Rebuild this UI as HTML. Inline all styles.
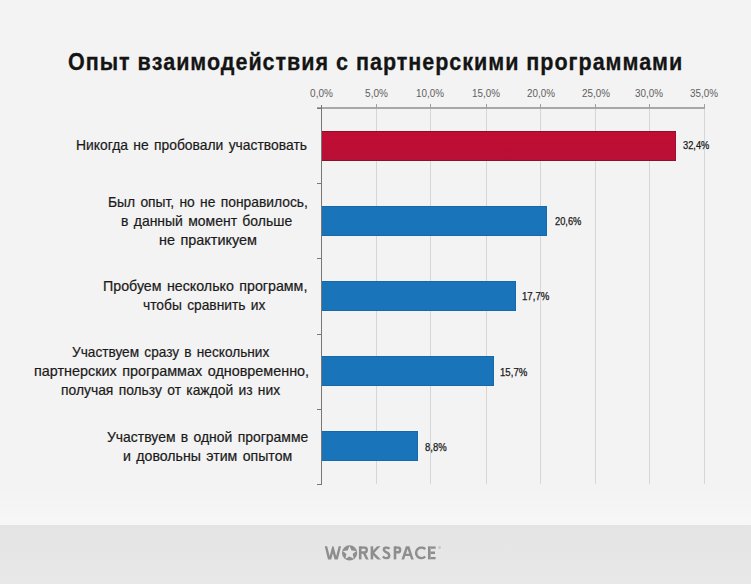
<!DOCTYPE html>
<html><head><meta charset="utf-8">
<style>
html,body{margin:0;padding:0}
body{width:751px;height:584px;position:relative;overflow:hidden;background:#f3f3f3;font-family:"Liberation Sans",sans-serif}
.a{position:absolute}
.t{position:absolute;white-space:nowrap;line-height:1;transform-origin:0 0}
.grid{position:absolute;top:109px;height:375px;width:1px;background:#d6d6d6}
.ttk{position:absolute;top:104px;height:4px;width:1px;background:#a0a0a0}
.ytk{position:absolute;left:317px;width:4px;height:1px;background:#777}
.bar{position:absolute;left:322px;height:30px;box-sizing:border-box}
.red{background:linear-gradient(#c20d33,#b80f36);border-top:1px solid #8e0f2a;border-bottom:1px solid #8e0f2a;border-right:1px solid #a00e30}
.blue{background:#1a74b9;border:1px solid #1668a8;border-left:0}
</style></head><body>
<div class="a" style="left:0;top:488px;width:751px;height:37px;background:linear-gradient(#f3f3f3,#f7f7f7)"></div>
<div class="a" style="left:0;top:525px;width:751px;height:59px;background:linear-gradient(#e4e4e4,#e8e8e8)"></div>
<div class="grid" style="left:376px"></div><div class="grid" style="left:430px"></div><div class="grid" style="left:486px"></div><div class="grid" style="left:540px"></div><div class="grid" style="left:595px"></div><div class="grid" style="left:649px"></div><div class="grid" style="left:704px"></div>
<div class="a" style="left:317px;top:107px;width:388px;height:2px;background:#a8a8a8"></div>
<div class="ttk" style="left:376px"></div><div class="ttk" style="left:430px"></div><div class="ttk" style="left:486px"></div><div class="ttk" style="left:540px"></div><div class="ttk" style="left:595px"></div><div class="ttk" style="left:649px"></div><div class="ttk" style="left:704px"></div>
<div class="a" style="left:321px;top:105px;width:1px;height:380px;background:#777"></div>
<div class="ytk" style="top:108px"></div><div class="ytk" style="top:183px"></div><div class="ytk" style="top:258px"></div><div class="ytk" style="top:334px"></div><div class="ytk" style="top:409px"></div><div class="ytk" style="top:484px"></div><div class="bar red" style="top:131px;width:353.9px"></div><div class="bar blue" style="top:206px;width:225.1px"></div><div class="bar blue" style="top:281px;width:193.6px"></div><div class="bar blue" style="top:356px;width:171.9px"></div><div class="bar blue" style="top:431px;width:95.9px"></div>
<svg class="a" style="left:0;top:0" width="751" height="584" viewBox="0 0 751 584">
<defs><clipPath id="cl"><rect x="320" y="546.3" width="120" height="13.1"/></clipPath></defs>
<g fill="none" stroke="#8e8e8e" stroke-width="2.5" clip-path="url(#cl)" stroke-linejoin="miter" stroke-miterlimit="10">
<polyline points="325.4,544 329.6,561 332.9,548.6 336.2,561 340.4,544" stroke-width="2.4"/>
<path d="M360.2,547.55 H364.4 A2.5,2.48 0 0 1 364.4,552.5 H360.2 M363.8,552.4 L368,561"/>
<path d="M379.9,545 L372.6,553 L380.6,561"/>
<path d="M389.3,548.9 C388.8,547.9 387.7,547.5 386.4,547.5 C384.8,547.5 383.9,548.5 383.9,549.7 C383.9,551.1 385.2,551.7 386.6,552.3 C388.2,553 389.2,553.7 389.2,555.4 C389.2,557.1 387.9,558.2 386.2,558.2 C384.7,558.2 383.6,557.5 382.9,556.4"/>
<path d="M395,547.55 H397.8 A2.35,2.35 0 0 1 397.8,552.25 H395"/>
<polyline points="402.3,561 407.6,545 412.9,561"/>
<path d="M404.6,554.9 H410.6" stroke-width="2.2"/>
<path d="M425.2,549.2 A5.3,5.3 0 1 0 425.2,556.5"/>
<path d="M430.5,547.55 H435.6 M430.5,552.8 H435 M430.5,558.15 H435.6"/>
</g>
<g fill="#8e8e8e">
<rect x="358.9" y="546.3" width="2.6" height="13.1"/>
<rect x="370.6" y="546.3" width="2.6" height="13.1"/>
<rect x="393.7" y="546.3" width="2.6" height="13.1"/>
<rect x="428" y="546.3" width="2.6" height="13.1"/>
<circle cx="349.6" cy="552.9" r="7.6"/>
</g>
<polygon fill="#e6e6e6" points="349.55,546.00 351.49,550.43 356.30,550.91 352.69,554.12 353.72,558.84 349.55,556.40 345.38,558.84 346.41,554.12 342.80,550.91 347.61,550.43"/>
<circle cx="439.6" cy="547.6" r="1.3" fill="#c4c4c4"/>
</svg>
<div class="t" id="t0" style="left:67.97px;top:50.22px;font-size:24px;font-weight:bold;color:#141414;transform:scale(0.8966,1.000);-webkit-text-stroke:0.3px #141414;letter-spacing:1.1px">Опыт взаимодействия с партнерскими программами</div>
<div class="t" id="t1" style="left:310.10px;top:88.81px;font-size:10px;font-weight:normal;color:#5e5e5e;transform:scale(1.0000,1.000)">0,0%</div>
<div class="t" id="t2" style="left:365.10px;top:88.81px;font-size:10px;font-weight:normal;color:#5e5e5e;transform:scale(1.0000,1.000)">5,0%</div>
<div class="t" id="t3" style="left:416.16px;top:88.81px;font-size:10px;font-weight:normal;color:#5e5e5e;transform:scale(0.9858,1.000)">10,0%</div>
<div class="t" id="t4" style="left:472.16px;top:88.81px;font-size:10px;font-weight:normal;color:#5e5e5e;transform:scale(0.9858,1.000)">15,0%</div>
<div class="t" id="t5" style="left:527.15px;top:88.81px;font-size:10px;font-weight:normal;color:#5e5e5e;transform:scale(0.9858,1.000)">20,0%</div>
<div class="t" id="t6" style="left:582.15px;top:88.81px;font-size:10px;font-weight:normal;color:#5e5e5e;transform:scale(0.9858,1.000)">25,0%</div>
<div class="t" id="t7" style="left:635.16px;top:88.81px;font-size:10px;font-weight:normal;color:#5e5e5e;transform:scale(0.9858,1.000)">30,0%</div>
<div class="t" id="t8" style="left:690.16px;top:88.81px;font-size:10px;font-weight:normal;color:#5e5e5e;transform:scale(0.9858,1.000)">35,0%</div>
<div class="t" id="t9" style="left:683.00px;top:141.40px;font-size:10px;font-weight:normal;color:#1a1a1a;transform:scale(0.9289,1.000);-webkit-text-stroke:0.25px #1a1a1a">32,4%</div>
<div class="t" id="t10" style="left:554.63px;top:216.90px;font-size:10px;font-weight:normal;color:#1a1a1a;transform:scale(0.9289,1.000);-webkit-text-stroke:0.25px #1a1a1a">20,6%</div>
<div class="t" id="t11" style="left:522.10px;top:292.21px;font-size:10px;font-weight:normal;color:#1a1a1a;transform:scale(0.9646,1.000);-webkit-text-stroke:0.25px #1a1a1a">17,7%</div>
<div class="t" id="t12" style="left:500.04px;top:367.60px;font-size:10px;font-weight:normal;color:#1a1a1a;transform:scale(0.9633,1.000);-webkit-text-stroke:0.25px #1a1a1a">15,7%</div>
<div class="t" id="t13" style="left:425.00px;top:442.60px;font-size:10px;font-weight:normal;color:#1a1a1a;transform:scale(0.9482,1.000);-webkit-text-stroke:0.25px #1a1a1a">8,8%</div>
<div class="t" id="t14" style="left:76.03px;top:137.90px;font-size:14.3px;font-weight:normal;color:#1a1a1a;transform:scale(0.9705,1.000);-webkit-text-stroke:0.2px #1a1a1a;word-spacing:1.5px">Никогда не пробовали участвовать</div>
<div class="t" id="t15" style="left:108.03px;top:195.00px;font-size:14.3px;font-weight:normal;color:#1a1a1a;transform:scale(0.9676,1.000);-webkit-text-stroke:0.2px #1a1a1a;word-spacing:1.5px">Был опыт, но не понравилось,</div>
<div class="t" id="t16" style="left:121.43px;top:213.81px;font-size:14.3px;font-weight:normal;color:#1a1a1a;transform:scale(0.9759,1.000);-webkit-text-stroke:0.2px #1a1a1a;word-spacing:1.5px">в данный момент больше</div>
<div class="t" id="t17" style="left:159.29px;top:232.50px;font-size:14.3px;font-weight:normal;color:#1a1a1a;transform:scale(1.0084,1.000);-webkit-text-stroke:0.2px #1a1a1a;word-spacing:1.5px">не практикуем</div>
<div class="t" id="t18" style="left:103.10px;top:279.00px;font-size:14.3px;font-weight:normal;color:#1a1a1a;transform:scale(0.9951,1.000);-webkit-text-stroke:0.2px #1a1a1a;word-spacing:1.5px">Пробуем несколько программ,</div>
<div class="t" id="t19" style="left:143.22px;top:297.92px;font-size:14.3px;font-weight:normal;color:#1a1a1a;transform:scale(0.9651,1.000);-webkit-text-stroke:0.2px #1a1a1a;word-spacing:1.5px">чтобы сравнить их</div>
<div class="t" id="t20" style="left:72.23px;top:344.92px;font-size:14.3px;font-weight:normal;color:#1a1a1a;transform:scale(0.9553,1.000);-webkit-text-stroke:0.2px #1a1a1a;word-spacing:1.5px">Участвуем сразу в нескольних</div>
<div class="t" id="t21" style="left:33.60px;top:363.81px;font-size:14.3px;font-weight:normal;color:#1a1a1a;transform:scale(1.0059,1.000);-webkit-text-stroke:0.2px #1a1a1a;word-spacing:1.5px">партнерских программах одновременно,</div>
<div class="t" id="t22" style="left:61.03px;top:382.60px;font-size:14.3px;font-weight:normal;color:#1a1a1a;transform:scale(0.9689,1.000);-webkit-text-stroke:0.2px #1a1a1a;word-spacing:1.5px">получая пользу от каждой из них</div>
<div class="t" id="t23" style="left:106.51px;top:429.81px;font-size:14.3px;font-weight:normal;color:#1a1a1a;transform:scale(0.9748,1.000);-webkit-text-stroke:0.2px #1a1a1a;word-spacing:1.5px">Участвуем в одной программе</div>
<div class="t" id="t24" style="left:122.50px;top:448.81px;font-size:14.3px;font-weight:normal;color:#1a1a1a;transform:scale(0.9883,1.000);-webkit-text-stroke:0.2px #1a1a1a;word-spacing:1.5px">и довольны этим опытом</div>
</body></html>
